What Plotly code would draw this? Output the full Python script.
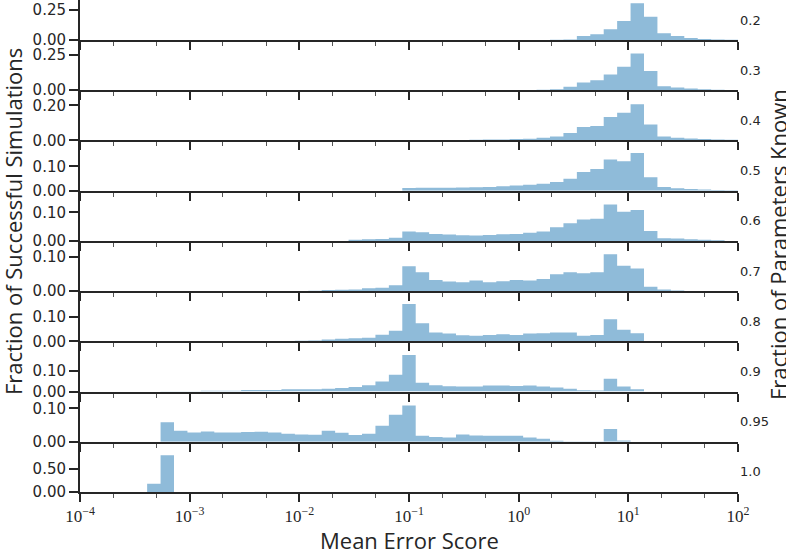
import numpy as np
import plotly.graph_objects as go
from plotly.subplots import make_subplots

# bin edges of the histograms (log spaced, 49 bins from 1e-4 to 1e2)
edges = np.logspace(-4, 2, 50)

known = ["0.2", "0.3", "0.4", "0.5", "0.6", "0.7", "0.8", "0.9", "0.95", "1.0"]


def bins(d):
    h = [0.0] * 49
    for k, v in d.items():
        h[k] = v
    return h


frac_02 = bins({35: 0.002, 36: 0.005, 37: 0.033, 38: 0.047, 39: 0.089, 40: 0.158,
                41: 0.306, 42: 0.194, 43: 0.056, 44: 0.033, 45: 0.017, 46: 0.008,
                47: 0.004, 48: 0.002})
frac_03 = bins({33: 0.002, 34: 0.004, 35: 0.007, 36: 0.024, 37: 0.055, 38: 0.071,
                39: 0.112, 40: 0.167, 41: 0.262, 42: 0.136, 43: 0.029, 44: 0.019,
                45: 0.012, 46: 0.007, 47: 0.004, 48: 0.002})
frac_04 = bins({25: 0.002, 26: 0.002, 27: 0.003, 28: 0.003, 29: 0.004, 30: 0.005,
                31: 0.006, 32: 0.008, 33: 0.010, 34: 0.015, 35: 0.023, 36: 0.042,
                37: 0.076, 38: 0.082, 39: 0.133, 40: 0.158, 41: 0.206, 42: 0.091,
                43: 0.023, 44: 0.015, 45: 0.011, 46: 0.008, 47: 0.006, 48: 0.004})
frac_05 = bins({24: 0.011, 25: 0.012, 26: 0.012, 27: 0.012, 28: 0.013, 29: 0.014,
                30: 0.015, 31: 0.018, 32: 0.021, 33: 0.024, 34: 0.028, 35: 0.036,
                36: 0.049, 37: 0.077, 38: 0.089, 39: 0.128, 40: 0.121, 41: 0.155,
                42: 0.055, 43: 0.015, 44: 0.010, 45: 0.007, 46: 0.005, 47: 0.003,
                48: 0.002})
frac_06 = bins({20: 0.004, 21: 0.006, 22: 0.007, 23: 0.011, 24: 0.033, 25: 0.030,
                26: 0.024, 27: 0.022, 28: 0.020, 29: 0.019, 30: 0.021, 31: 0.023,
                32: 0.024, 33: 0.029, 34: 0.033, 35: 0.048, 36: 0.062, 37: 0.075,
                38: 0.078, 39: 0.128, 40: 0.102, 41: 0.108, 42: 0.035, 43: 0.009,
                44: 0.008, 45: 0.006, 46: 0.004, 47: 0.002})
frac_07 = bins({17: 0.001, 18: 0.003, 19: 0.004, 20: 0.005, 21: 0.008, 22: 0.010,
                23: 0.017, 24: 0.072, 25: 0.055, 26: 0.032, 27: 0.028, 28: 0.026,
                29: 0.031, 30: 0.026, 31: 0.029, 32: 0.032, 33: 0.031, 34: 0.035,
                35: 0.049, 36: 0.055, 37: 0.052, 38: 0.055, 39: 0.107, 40: 0.074,
                41: 0.066, 42: 0.013, 43: 0.005, 44: 0.002})
frac_08 = bins({16: 0.002, 17: 0.003, 18: 0.007, 19: 0.010, 20: 0.012, 21: 0.015,
                22: 0.027, 23: 0.043, 24: 0.151, 25: 0.073, 26: 0.036, 27: 0.032,
                28: 0.025, 29: 0.023, 30: 0.026, 31: 0.029, 32: 0.026, 33: 0.032,
                34: 0.033, 35: 0.036, 36: 0.036, 37: 0.023, 38: 0.026, 39: 0.089,
                40: 0.047, 41: 0.033})
frac_09 = bins({6: 0.002, 7: 0.002, 8: 0.002, 9: 0.004, 10: 0.004, 11: 0.004,
                12: 0.007, 13: 0.007, 14: 0.007, 15: 0.011, 16: 0.011, 17: 0.011,
                18: 0.014, 19: 0.017, 20: 0.022, 21: 0.030, 22: 0.049, 23: 0.081,
                24: 0.176, 25: 0.043, 26: 0.030, 27: 0.025, 28: 0.024, 29: 0.024,
                30: 0.029, 31: 0.029, 32: 0.027, 33: 0.029, 34: 0.024, 35: 0.019,
                36: 0.013, 37: 0.006, 38: 0.005, 39: 0.062, 40: 0.024, 41: 0.011})
frac_095 = bins({6: 0.058, 7: 0.033, 8: 0.028, 9: 0.031, 10: 0.028, 11: 0.028,
                 12: 0.029, 13: 0.030, 14: 0.028, 15: 0.024, 16: 0.022, 17: 0.021,
                 18: 0.033, 19: 0.027, 20: 0.020, 21: 0.024, 22: 0.048, 23: 0.081,
                 24: 0.108, 25: 0.018, 26: 0.014, 27: 0.013, 28: 0.022, 29: 0.019,
                 30: 0.018, 31: 0.018, 32: 0.018, 33: 0.013, 34: 0.009, 35: 0.003,
                 36: 0.001, 37: 0.001, 38: 0.001, 39: 0.038, 40: 0.004})
frac_10 = bins({5: 0.18, 6: 0.80})

fractions = [frac_02, frac_03, frac_04, frac_05, frac_06,
             frac_07, frac_08, frac_09, frac_095, frac_10]

# y axis top and the one labelled tick for each row
y_top = [0.333, 0.357, 0.286, 0.206, 0.176, 0.146, 0.203, 0.242, 0.150, 1.09]
y_tick = [0.25, 0.25, 0.20, 0.10, 0.10, 0.10, 0.10, 0.10, 0.10, 0.50]
row_px = [40] + [50.2] * 9

dark = "#262626"
fill = "#8fbbd9"

fig = make_subplots(rows=10, cols=1, shared_xaxes=True, vertical_spacing=0,
                    row_heights=row_px)

for i, h in enumerate(fractions):
    fig.add_trace(go.Scatter(
        x=edges, y=h + [h[-1]], mode="lines", line_shape="hv",
        line=dict(width=0, color=fill), fill="tozeroy", fillcolor=fill,
        showlegend=False, hoverinfo="skip"), row=i + 1, col=1)
    fig.update_yaxes(range=[0, y_top[i]], tickvals=[0, y_tick[i]], tickformat=".2f",
                     ticks="outside", ticklen=9, tickwidth=1.5, tickcolor=dark,
                     showline=True, linecolor=dark, linewidth=2, showgrid=False,
                     zeroline=False, tickfont=dict(family="DejaVu Sans", size=15, color=dark),
                     row=i + 1, col=1)
    fig.add_annotation(text=known[i], xref="paper", yref="y%s domain" % ("" if i == 0 else i + 1),
                       x=1, y=20 / row_px[i], xanchor="left", yanchor="middle", xshift=0,
                       showarrow=False, font=dict(family="DejaVu Sans", size=13, color=dark))

fig.update_xaxes(type="log", range=[-4, 2], showline=True, linecolor=dark, linewidth=2,
                 ticks="outside", ticklen=8, tickwidth=1.5, tickcolor=dark,
                 minor=dict(ticks="outside", ticklen=4, tickwidth=1, tickcolor="#555"),
                 showgrid=False, zeroline=False,
                 tickvals=[1e-4, 1e-3, 1e-2, 1e-1, 1e0, 1e1, 1e2],
                 ticktext=["10<sup>−4</sup>", "10<sup>−3</sup>", "10<sup>−2</sup>",
                           "10<sup>−1</sup>", "10<sup>0</sup>", "10<sup>1</sup>", "10<sup>2</sup>"],
                 tickfont=dict(family="Liberation Serif", size=17, color=dark))

fig.add_annotation(text="Mean Error Score", xref="paper", yref="paper", x=0.5, y=0,
                   yshift=-48, xanchor="center", yanchor="middle", showarrow=False,
                   font=dict(family="Open Sans", size=22, color=dark))
fig.add_annotation(text="Fraction of Successful Simulations", xref="paper", yref="paper",
                   x=0, y=(492 - 222) / 492, xshift=-67, xanchor="center", yanchor="middle",
                   textangle=-90, showarrow=False,
                   font=dict(family="Open Sans", size=22, color=dark))
fig.add_annotation(text="Fraction of Parameters Known", xref="paper", yref="paper",
                   x=1, y=(492 - 245) / 492, xshift=40, xanchor="center", yanchor="middle",
                   textangle=-90, showarrow=False,
                   font=dict(family="Open Sans", size=22, color=dark))

fig.update_layout(width=786, height=554, plot_bgcolor="white", paper_bgcolor="white",
                  margin=dict(l=80, r=48, t=0, b=62))

fig.write_html("out.html", config={"displayModeBar": False},
               post_script="document.body.style.margin='0';")
